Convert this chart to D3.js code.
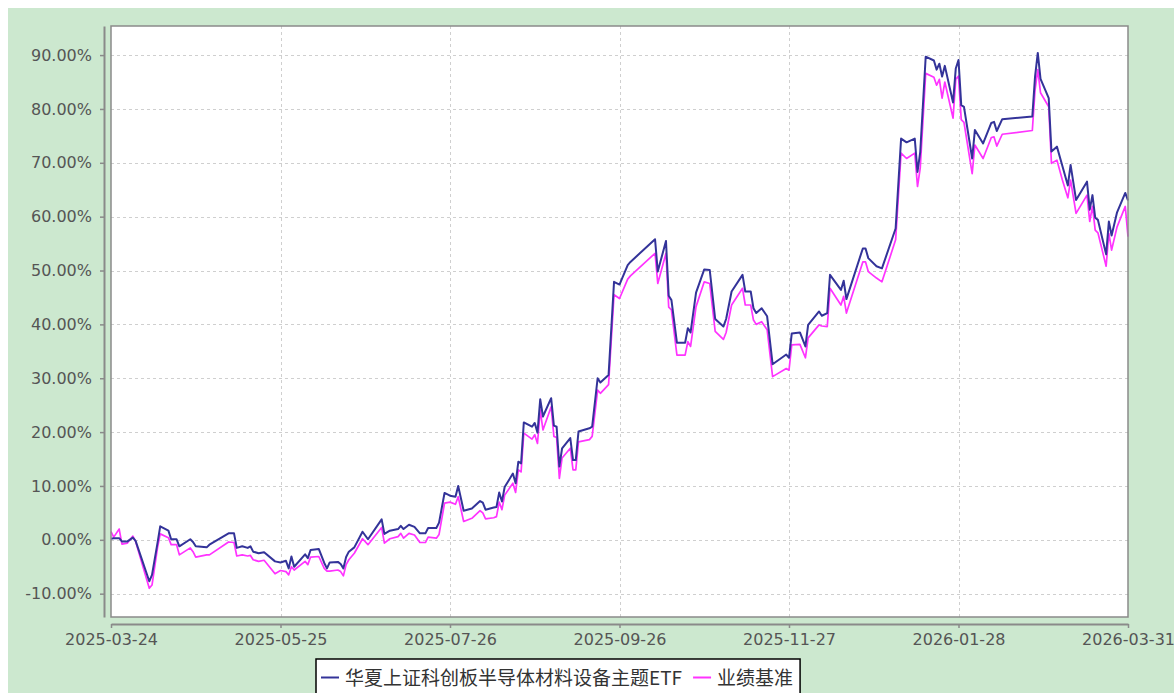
<!DOCTYPE html>
<html>
<head>
<meta charset="utf-8">
<script src="https://cdn.jsdelivr.net/npm/d3@7"></script>
<style>
  body { margin: 0; background: #fff; }
  svg { display: block; }
</style>
</head>
<body>
<div id="chart"></div>
<script>
// Cumulative return (%) — ETF vs benchmark
const dates = [
  "2025-03-24", "2025-03-25", "2025-03-27", "2025-03-28", "2025-03-30", "2025-04-01", "2025-04-02",
  "2025-04-07", "2025-04-08", "2025-04-10", "2025-04-11", "2025-04-14", "2025-04-15", "2025-04-17",
  "2025-04-18", "2025-04-22", "2025-04-23", "2025-04-24", "2025-04-28", "2025-04-29", "2025-05-06",
  "2025-05-08", "2025-05-09", "2025-05-11", "2025-05-13", "2025-05-14", "2025-05-15", "2025-05-17",
  "2025-05-19", "2025-05-23", "2025-05-25", "2025-05-27", "2025-05-28", "2025-05-29", "2025-05-30",
  "2025-06-03", "2025-06-04", "2025-06-05", "2025-06-08", "2025-06-10", "2025-06-11", "2025-06-12",
  "2025-06-15", "2025-06-16", "2025-06-17", "2025-06-18", "2025-06-19", "2025-06-21", "2025-06-24",
  "2025-06-26", "2025-07-01", "2025-07-02", "2025-07-04", "2025-07-07", "2025-07-08", "2025-07-09",
  "2025-07-11", "2025-07-13", "2025-07-15", "2025-07-17", "2025-07-18", "2025-07-21", "2025-07-22",
  "2025-07-24", "2025-07-26", "2025-07-28", "2025-07-29", "2025-07-31", "2025-08-03", "2025-08-06",
  "2025-08-07", "2025-08-08", "2025-08-11", "2025-08-12", "2025-08-13", "2025-08-14", "2025-08-15",
  "2025-08-18", "2025-08-19", "2025-08-20", "2025-08-21", "2025-08-22", "2025-08-25", "2025-08-26",
  "2025-08-27", "2025-08-28", "2025-08-29", "2025-09-01", "2025-09-02", "2025-09-03", "2025-09-04",
  "2025-09-05", "2025-09-08", "2025-09-09", "2025-09-10", "2025-09-11", "2025-09-15", "2025-09-16",
  "2025-09-18", "2025-09-19", "2025-09-22", "2025-09-24", "2025-09-26", "2025-09-29", "2025-09-30",
  "2025-10-09", "2025-10-10", "2025-10-13", "2025-10-14", "2025-10-15", "2025-10-17", "2025-10-20",
  "2025-10-21", "2025-10-22", "2025-10-24", "2025-10-27", "2025-10-29", "2025-10-31", "2025-11-03",
  "2025-11-04", "2025-11-06", "2025-11-10", "2025-11-11", "2025-11-13", "2025-11-14", "2025-11-15",
  "2025-11-17", "2025-11-19", "2025-11-21", "2025-11-26", "2025-11-27", "2025-11-28", "2025-12-01",
  "2025-12-03", "2025-12-04", "2025-12-08", "2025-12-09", "2025-12-11", "2025-12-12", "2025-12-16",
  "2025-12-17", "2025-12-18", "2025-12-24", "2025-12-25", "2025-12-26", "2025-12-29", "2025-12-31",
  "2026-01-05", "2026-01-07", "2026-01-09", "2026-01-12", "2026-01-13", "2026-01-14", "2026-01-16",
  "2026-01-19", "2026-01-20", "2026-01-21", "2026-01-22", "2026-01-23", "2026-01-26", "2026-01-27",
  "2026-01-28", "2026-01-29", "2026-01-30", "2026-02-02", "2026-02-03", "2026-02-06", "2026-02-09",
  "2026-02-10", "2026-02-11", "2026-02-13", "2026-02-24", "2026-02-25", "2026-02-26", "2026-02-27",
  "2026-03-02", "2026-03-03", "2026-03-05", "2026-03-07", "2026-03-09", "2026-03-10", "2026-03-12",
  "2026-03-16", "2026-03-17", "2026-03-18", "2026-03-19", "2026-03-20", "2026-03-23", "2026-03-24",
  "2026-03-25", "2026-03-27", "2026-03-30", "2026-03-31"
]

const etfValues = [
  0.2, 0.3, 0.3, -0.3, -0.3, 0.4, -0.2,
  -7.7, -6.5, -0.6, 2.5, 1.7, 0.1, 0.1,
  -1.2, 0.1, -0.4, -1.2, -1.4, -0.9, 1.2,
  1.2, -1.5, -1.2, -1.5, -1.2, -2.2, -2.5,
  -2.3, -4.0, -4.2, -3.9, -5.3, -3.1, -5.0,
  -2.7, -3.4, -1.9, -1.7, -4.3, -5.3, -4.2,
  -4.1, -4.5, -5.3, -3.2, -2.2, -1.4, 1.5,
  0.1, 3.8, 1.1, 1.7, 2.0, 2.6, 2.0,
  2.8, 2.4, 1.2, 1.2, 2.2, 2.2, 3.2,
  8.7, 8.2, 8.0, 10.0, 5.4, 5.8, 7.2,
  6.9, 5.6, 6.0, 6.1, 8.8, 7.1, 9.8,
  12.3, 10.5, 14.5, 14.2, 21.8, 21.0, 21.7,
  19.9, 26.1, 22.9, 26.3, 21.2, 21.0, 13.6,
  17.0, 18.9, 14.8, 14.8, 20.1, 20.7, 21.0,
  30.0, 29.2, 30.6, 47.9, 47.4, 51.0, 51.6,
  55.8, 49.8, 55.5, 45.3, 44.5, 36.6, 36.6,
  39.3, 38.5, 45.9, 50.2, 50.1, 41.0, 39.6,
  41.0, 46.1, 49.2, 46.1, 46.1, 43.0, 42.1,
  43.0, 41.5, 32.6, 34.4, 33.8, 38.3, 38.5,
  35.9, 39.9, 42.4, 41.6, 42.1, 49.2, 46.4,
  48.1, 44.7, 54.1, 54.1, 52.3, 50.8, 50.4,
  57.8, 74.5, 73.8, 74.5, 68.3, 72.0, 89.7,
  89.0, 87.3, 88.4, 86.0, 88.0, 81.2, 87.5,
  89.1, 80.7, 80.4, 70.8, 76.1, 73.6, 77.4,
  77.6, 75.9, 78.1, 78.6, 86.0, 90.4, 85.6,
  82.0, 72.1, 73.0, 69.4, 65.8, 69.6, 63.1,
  66.5, 61.3, 64.0, 59.8, 59.4, 53.0, 59.1,
  56.5, 60.8, 64.4, 63.0
]

const benchValues = [
  1.5, 0.5, 2.0, -0.8, -0.6, 0.7, -0.3,
  -9.0, -8.4, -1.5, 1.1, 0.4, -0.9, -0.9,
  -2.8, -1.5, -2.2, -3.2, -2.8, -2.8, -0.4,
  -0.5, -3.0, -2.8, -3.0, -2.9, -3.7, -4.0,
  -3.8, -6.3, -5.7, -5.9, -6.5, -5.0, -5.6,
  -4.0, -4.6, -3.2, -3.1, -5.3, -5.8, -5.8,
  -5.6, -5.9, -6.7, -4.6, -3.7, -2.5, 0.2,
  -0.9, 2.3, -0.6, 0.2, 0.6, 1.2, 0.3,
  1.2, 0.9, -0.5, -0.5, 0.5, 0.3, 1.0,
  6.8, 7.0, 6.6, 8.0, 3.4, 4.0, 5.4,
  5.0, 3.9, 4.1, 4.3, 7.0, 5.6, 8.3,
  10.5, 8.8, 13.0, 12.6, 19.8, 18.7, 19.5,
  17.9, 24.1, 20.4, 24.7, 19.2, 19.0, 11.4,
  15.2, 17.0, 13.0, 13.0, 18.2, 18.6, 19.2,
  27.8, 27.2, 28.8, 45.5, 44.8, 48.4, 49.0,
  53.2, 47.6, 53.2, 43.2, 42.7, 34.3, 34.3,
  36.8, 35.9, 43.3, 47.9, 47.6, 38.7, 37.2,
  38.5, 43.6, 46.7, 43.6, 43.6, 40.8, 40.0,
  40.5, 39.0, 30.3, 31.8, 31.5, 36.2, 36.3,
  33.8, 37.5, 39.9, 39.7, 39.6, 46.7, 43.6,
  45.2, 42.1, 51.6, 51.6, 49.8, 48.6, 47.9,
  55.7, 71.8, 70.8, 71.8, 65.6, 69.0, 86.6,
  85.9, 84.4, 85.5, 82.0, 85.0, 78.3, 85.5,
  86.1, 78.0, 77.5, 68.0, 73.3, 70.8, 74.7,
  74.8, 73.1, 75.3, 76.0, 83.5, 87.3, 83.0,
  80.4, 69.9, 70.5, 66.8, 63.5, 66.8, 60.6,
  64.0, 59.1, 61.9, 57.5, 57.0, 50.8, 56.9,
  53.8, 58.1, 61.9, 56.3
]

const yTickValues = [-10, 0, 10, 20, 30, 40, 50, 60, 70, 80, 90]
const xTickLabels = ["2025-03-24", "2025-05-25", "2025-07-26", "2025-09-26", "2025-11-27", "2026-01-28", "2026-03-31"]
const seriesNames = ["华夏上证科创板半导体材料设备主题ETF", "业绩基准"]
const seriesColors = ["#333399", "#ff33ff"]

const width = 1174
const height = 693
const plot = { left: 111, right: 1128, top: 26, bottom: 617 }

const parse = d3.utcParse("%Y-%m-%d")

const svg = d3
  .select("#chart")
  .append("svg")
  .attr("width", width)
  .attr("height", height)

// green background panel
svg.append("rect").attr("x", 8).attr("y", 8).attr("width", width - 8).attr("height", height - 8).style("fill", "#cce8cf")

// plot area
svg
  .append("rect")
  .attr("x", plot.left)
  .attr("y", plot.top)
  .attr("width", plot.right - plot.left)
  .attr("height", plot.bottom - plot.top)
  .style("fill", "#fff")

const xScale = d3
  .scaleUtc()
  .domain([parse(xTickLabels[0]), parse(xTickLabels[xTickLabels.length - 1])])
  .range([plot.left, plot.right])

const yScale = d3.scaleLinear().domain([-14.33, 95.4]).range([plot.bottom, plot.top])

// grid
const grid = svg.append("g").attr("class", "grid").style("stroke", "#cfcfcf").style("stroke-dasharray", "3,3")

grid
  .selectAll(".hgrid")
  .data(yTickValues)
  .enter()
  .append("line")
  .attr("x1", plot.left)
  .attr("x2", plot.right)
  .attr("y1", (d) => Math.round(yScale(d)) + 0.5)
  .attr("y2", (d) => Math.round(yScale(d)) + 0.5)

grid
  .selectAll(".vgrid")
  .data(xTickLabels.slice(1, -1))
  .enter()
  .append("line")
  .attr("x1", (d) => Math.round(xScale(parse(d))) + 0.5)
  .attr("x2", (d) => Math.round(xScale(parse(d))) + 0.5)
  .attr("y1", plot.top)
  .attr("y2", plot.bottom)

// lines (benchmark first so the ETF sits on top)
const line = (values) =>
  d3
    .line()
    .x((d, i) => xScale(parse(dates[i])))
    .y((d) => yScale(d))(values)

svg
  .append("path")
  .attr("d", line(benchValues))
  .style("fill", "none")
  .style("stroke", seriesColors[1])
  .style("stroke-width", 1.7)
  .style("stroke-linejoin", "round")

svg
  .append("path")
  .attr("d", line(etfValues))
  .style("fill", "none")
  .style("stroke", seriesColors[0])
  .style("stroke-width", 2)
  .style("stroke-linejoin", "round")

// plot border
svg
  .append("rect")
  .attr("x", plot.left)
  .attr("y", plot.top)
  .attr("width", plot.right - plot.left)
  .attr("height", plot.bottom - plot.top)
  .style("fill", "none")
  .style("stroke", "#8a8a8a")
  .style("stroke-width", 1.5)

// axes
const yAxis = d3
  .axisLeft(yScale)
  .tickValues(yTickValues)
  .tickSize(4)
  .tickSizeOuter(0)
  .tickPadding(8)
  .tickFormat((d) => d.toFixed(2) + "%")

const xAxis = d3
  .axisBottom(xScale)
  .tickValues(xTickLabels.map(parse))
  .tickSize(4)
  .tickSizeOuter(0)
  .tickPadding(6)
  .tickFormat(d3.utcFormat("%Y-%m-%d"))

const gy = svg.append("g").attr("transform", "translate(104,0)").call(yAxis)
const gx = svg.append("g").attr("transform", "translate(0,624)").call(xAxis)

for (const g of [gx, gy]) {
  g.select(".domain").style("stroke", "#8a8a8a").style("stroke-width", 2)
  g.selectAll(".tick line").style("stroke", "#8a8a8a").style("stroke-width", 1.5)
  g.selectAll(".tick text")
    .style("fill", "#555")
    .style("font-family", "'DejaVu Sans', sans-serif")
    .style("font-size", "16px")
}

// legend
const legend = svg.append("g").attr("class", "legend")
const legendBox = legend
  .append("rect")
  .attr("x", 316)
  .attr("y", 659)
  .attr("height", 50)
  .style("fill", "#fff")
  .style("stroke", "#000")
  .style("stroke-width", 1.5)

let cursor = 321
seriesNames.forEach((name, i) => {
  legend
    .append("line")
    .attr("x1", cursor)
    .attr("x2", cursor + 18)
    .attr("y1", 677.5)
    .attr("y2", 677.5)
    .style("stroke", seriesColors[i])
    .style("stroke-width", 2)

  const t = legend
    .append("text")
    .attr("x", cursor + 24)
    .attr("y", 685)
    .text(name)
    .style("fill", "#333")
    .style("font-family", "'Noto Sans CJK SC', sans-serif")
    .style("font-size", "19px")

  cursor += 24 + t.node().getComputedTextLength() + 11
})
legendBox.attr("width", cursor - 11 + 7 - 316)
</script>
</body>
</html>
